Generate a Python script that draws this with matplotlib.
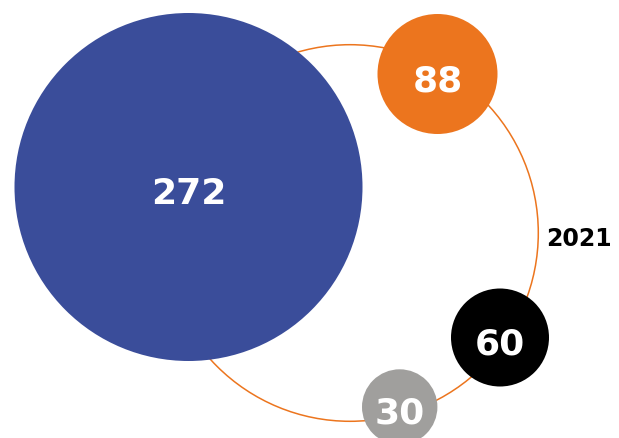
import matplotlib.pyplot as plt
from matplotlib.patches import Circle

# values shown in the bubbles
values = [272, 88, 60, 30]
year_label = "2021"

# layout (pixel coordinates of the original graphic) and styling
centers = [(188.5, 188), (437.5, 75), (500, 338.5), (399.7, 408)]
radii = [174, 60, 49, 37.7]
colors = ["#3a4d9a", "#ec751e", "#000000", "#a09f9d"]
ring_center = (350, 234)
ring_radius = 188.3

fig = plt.figure(figsize=(6.19, 4.39), dpi=100)
ax = fig.add_axes([0, 0, 1, 1])
ax.set_xlim(0, 619)
ax.set_ylim(439, 0)
ax.set_aspect("equal")
ax.axis("off")

ax.add_patch(Circle(ring_center, ring_radius, fill=False, edgecolor="#ec751e", linewidth=1.1, zorder=1))

for v, c, r, col in zip(values, centers, radii, colors):
    ax.add_patch(Circle(c, r, facecolor=col, edgecolor="none", zorder=2))
    ax.text(c[0], c[1] + 6, str(v), color="white", fontsize=26, fontweight="bold",
            ha="center", va="center", zorder=3)

ax.text(579, 239, year_label, color="black", fontsize=17, fontweight="bold",
        ha="center", va="center")

fig.savefig("out.png", dpi=100)
